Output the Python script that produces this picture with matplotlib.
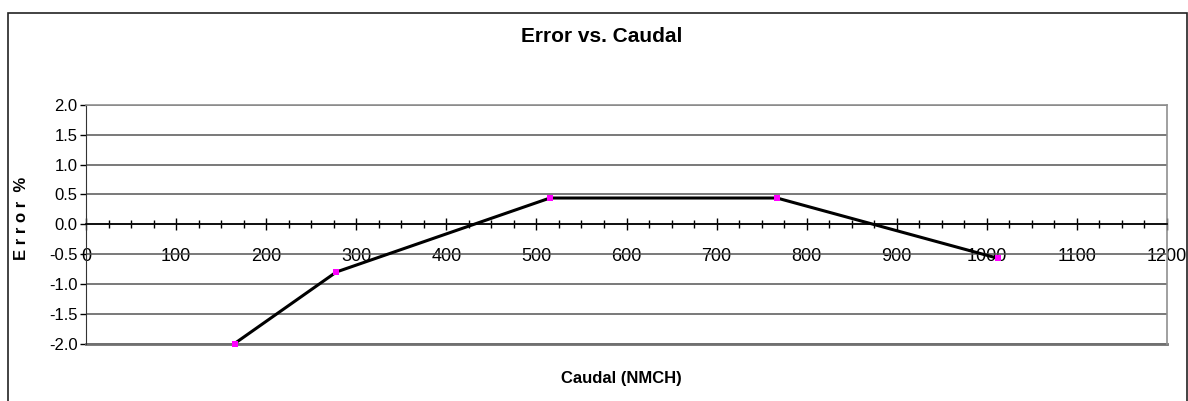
import matplotlib.pyplot as plt
from matplotlib.ticker import MultipleLocator, FormatStrFormatter
from matplotlib.patches import Rectangle

caudal = [165, 278, 515, 767, 1012]
error = [-2.0, -0.80, 0.44, 0.44, -0.57]

plt.rcParams['font.family'] = ['Liberation Sans', 'DejaVu Sans']

W, H = 1188, 401
fig = plt.figure(figsize=(W / 100, H / 100), dpi=100)

# plot area in pixel terms
left, right, top, bottom = 86, 1167, 105, 343.5
ax = fig.add_axes([left / W, 1 - bottom / H, (right - left) / W, (bottom - top) / H])

# outer chart border
fig.patches.append(Rectangle((8 / W, -0.05), (1187 - 8) / W, 1.05 - 13 / H,
                             transform=fig.transFigure, fill=False,
                             edgecolor='#222222', lw=1.2))

ax.set_xlim(0, 1200)
ax.set_ylim(-2.0, 2.0)

ax.plot(caudal, error, color='black', lw=2.2, zorder=3, clip_on=False)
ax.plot(caudal, error, ls='none', marker='s', ms=4, color='magenta',
        markeredgewidth=0, zorder=4, clip_on=False)

ax.yaxis.set_major_locator(MultipleLocator(0.5))
ax.yaxis.set_major_formatter(FormatStrFormatter('%.1f'))
ax.yaxis.grid(True, color='#555555', lw=1.1)
ax.axhline(-2.0, color='#707070', lw=2, clip_on=False, zorder=1)
ax.set_axisbelow(True)

ax.xaxis.set_major_locator(MultipleLocator(100))
ax.xaxis.set_minor_locator(MultipleLocator(25))

ax.spines['bottom'].set_position(('data', 0))
ax.spines['bottom'].set_color('black')
ax.spines['bottom'].set_linewidth(1.2)
ax.spines['left'].set_color('#333333')
ax.spines['top'].set_color('#909090')
ax.spines['right'].set_color('#909090')
ax.spines['top'].set_linewidth(1.2)
ax.spines['right'].set_linewidth(1.2)

ax.tick_params(axis='x', which='major', direction='inout', length=8, width=1,
               pad=13, labelsize=13)
ax.tick_params(axis='x', which='minor', direction='inout', length=5.5, width=1)
ax.tick_params(axis='y', direction='out', length=4, width=1, pad=2, labelsize=12)

fig.text(602 / W, 1 - 37 / H, 'Error vs. Caudal', ha='center', va='center',
         fontsize=15, fontweight='bold')
fig.text(621 / W, 1 - 378 / H, 'Caudal (NMCH)', ha='center', va='center',
         fontsize=12, fontweight='bold')
fig.text(22 / W, 1 - 218 / H, 'E r r o r  %', ha='center', va='center',
         rotation=90, fontsize=12, fontweight='bold')

fig.savefig('out.png', dpi=100)
